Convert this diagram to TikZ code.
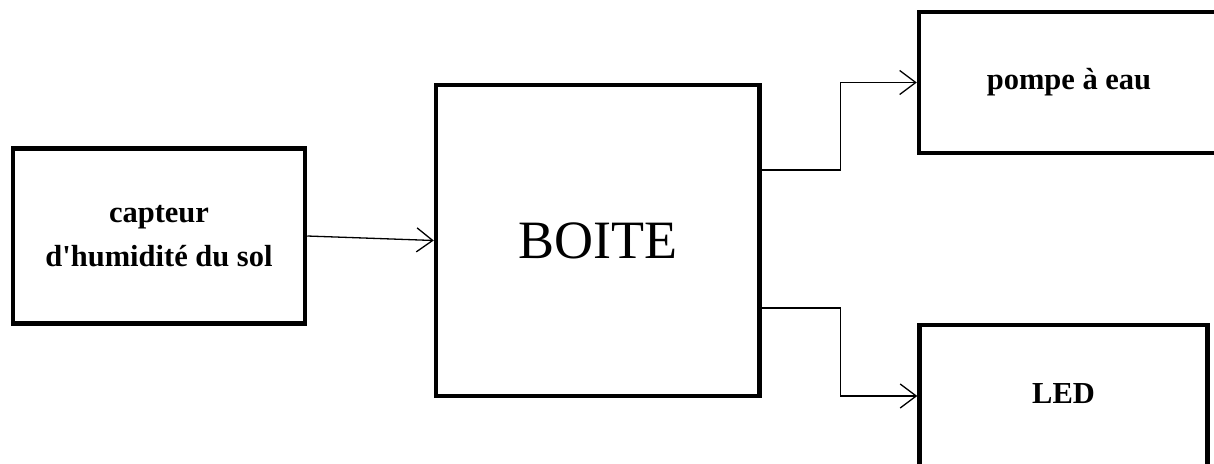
\documentclass[tikz,border=0pt]{standalone}
\usepackage{fontspec}
% plain family: keeps the straight apostrophe in "d'humidité"
\newfontfamily\blockfont{Liberation Serif}
\usetikzlibrary{arrows.meta}

\begin{document}
\begin{tikzpicture}[x=1pt, y=-1pt,
  block/.style={draw=black, line width=4.5pt, fill=white, inner sep=0pt,
                align=center, line join=miter},
  small/.style={font=\blockfont\bfseries\fontsize{30.5}{44}\selectfont},
  big/.style={font=\blockfont\fontsize{54}{60}\selectfont},
  arr/.style={line width=1.3pt, -{Straight Barb[length=16pt,width=24pt]}}]

\useasboundingbox (0,0) rectangle (1214,463);
\fill[white] (0,0) rectangle (1214,463);
\clip (0,0) rectangle (1214,463);

% blocks
\node[block, small, minimum width=292pt, minimum height=175pt]
  (capteur) at (159,236) {capteur\\d'humidité du sol};
\node[block, big, minimum width=323.5pt, minimum height=311pt]
  (boite) at (597.75,240.5) {BOITE};
\node[block, small, minimum width=300pt, minimum height=141pt]
  (pompe) at (1069,82.5) {pompe à eau};
\node[block, small, minimum width=288pt, minimum height=142pt, text depth=5pt]
  (led) at (1063.5,396) {LED};

% connectors
\draw[arr] (capteur.east) -- (boite.west);
\draw[arr] ([yshift=70.5pt]boite.east) -- ++(78.5,0) |- (pompe.west);
\draw[arr] ([yshift=-67.5pt]boite.east) -- ++(78.5,0) |- (led.west);
\end{tikzpicture}
\end{document}
